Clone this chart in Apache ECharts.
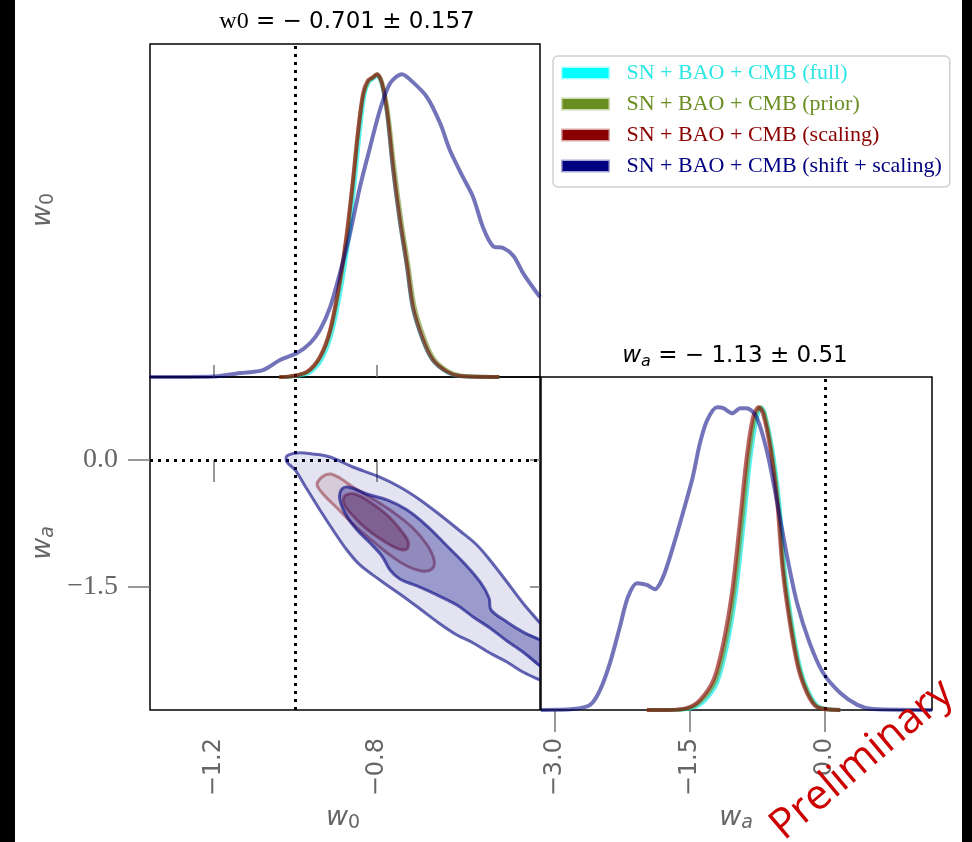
<!DOCTYPE html>
<html><head><meta charset="utf-8">
<script src="https://cdn.jsdelivr.net/npm/echarts@6/dist/echarts.min.js"></script>
<style>html,body{margin:0;padding:0;background:#fff}#c{width:972px;height:842px}</style>
</head><body><div id="c"></div>
<script>
// ---------- data ----------
const seriesNames = ['SN + BAO + CMB (full)', 'SN + BAO + CMB (prior)', 'SN + BAO + CMB (scaling)', 'SN + BAO + CMB (shift + scaling)'];
const w0Ticks = [-1.2, -0.8];
const waTicksX = [-3.0, -1.5, 0.0];
const waTicksY = [0.0, -1.5];
const w0Fiducial = -1.0;
const waFiducial = 0.0;
const w0Range = [-1.357, -0.4];
const waRangeX = [-3.156, 1.189];
const waRangeY = [-2.953, 0.98];

// 1D w0 posteriors
const w0_full_x  = [-1.03, -1.005, -0.965, -0.935, -0.91, -0.886, -0.869, -0.855, -0.843, -0.831, -0.82, -0.81, -0.80, -0.788, -0.775, -0.761, -0.744, -0.726, -0.712, -0.687, -0.663, -0.628, -0.596, -0.50];
const w0_full_p  = [0, 0.002, 0.015, 0.06, 0.15, 0.31, 0.465, 0.64, 0.80, 0.93, 0.975, 0.985, 0.995, 0.965, 0.868, 0.69, 0.515, 0.36, 0.228, 0.12, 0.055, 0.016, 0.003, 0];
const w0_prior_x = [-1.04, -1.013, -0.972, -0.94, -0.915, -0.891, -0.874, -0.859, -0.847, -0.834, -0.822, -0.81, -0.80, -0.787, -0.773, -0.758, -0.741, -0.723, -0.708, -0.683, -0.659, -0.624, -0.592, -0.50];
const w0_prior_p = [0, 0.002, 0.016, 0.064, 0.15, 0.31, 0.465, 0.64, 0.80, 0.93, 0.975, 0.99, 1.0, 0.972, 0.875, 0.70, 0.525, 0.37, 0.235, 0.125, 0.058, 0.018, 0.004, 0];
const w0_scal_x  = [-1.04, -1.013, -0.972, -0.94, -0.915, -0.891, -0.874, -0.859, -0.847, -0.834, -0.822, -0.81, -0.80, -0.788, -0.775, -0.761, -0.744, -0.726, -0.712, -0.687, -0.663, -0.628, -0.596, -0.50];
const w0_scal_p  = [0, 0.002, 0.017, 0.066, 0.155, 0.32, 0.475, 0.65, 0.805, 0.937, 0.98, 0.99, 1.0, 0.97, 0.871, 0.693, 0.518, 0.363, 0.231, 0.122, 0.056, 0.017, 0.003, 0];
const w0_shift_x = [-1.357, -1.20, -1.136, -1.08, -1.038, -0.996, -0.964, -0.94, -0.915, -0.891, -0.866, -0.842, -0.817, -0.793, -0.768, -0.739, -0.712, -0.677, -0.645, -0.621, -0.589, -0.564, -0.54, -0.515, -0.49, -0.465, -0.44, -0.40];
const w0_shift_p = [0.0, 0.002, 0.013, 0.023, 0.056, 0.079, 0.112, 0.155, 0.231, 0.343, 0.475, 0.627, 0.759, 0.881, 0.970, 1.0, 0.974, 0.924, 0.838, 0.749, 0.660, 0.594, 0.495, 0.432, 0.426, 0.40, 0.34, 0.264];

// 1D wa posteriors
const wa_full_x  = [-1.95, -1.70, -1.48, -1.34, -1.20, -1.09, -0.99, -0.90, -0.83, -0.76, -0.71, -0.67, -0.59, -0.51, -0.45, -0.37, -0.28, -0.18, -0.07, 0.17];
const wa_full_p  = [0, 0, 0.006, 0.03, 0.09, 0.21, 0.385, 0.625, 0.83, 0.96, 1.0, 0.98, 0.87, 0.69, 0.47, 0.29, 0.145, 0.058, 0.011, 0];
const wa_prior_x = [-1.98, -1.72, -1.51, -1.37, -1.22, -1.11, -1.01, -0.92, -0.85, -0.78, -0.72, -0.675, -0.60, -0.52, -0.46, -0.38, -0.29, -0.19, -0.08, 0.17];
const wa_prior_p = [0, 0, 0.007, 0.032, 0.095, 0.215, 0.39, 0.63, 0.832, 0.965, 1.0, 0.98, 0.868, 0.685, 0.465, 0.29, 0.143, 0.057, 0.01, 0];
const wa_scal_x  = [-1.98, -1.75, -1.53, -1.39, -1.24, -1.13, -1.03, -0.94, -0.87, -0.80, -0.74, -0.69, -0.61, -0.53, -0.47, -0.39, -0.30, -0.20, -0.09, 0.17];
const wa_scal_p  = [0, 0, 0.007, 0.033, 0.099, 0.221, 0.396, 0.637, 0.835, 0.967, 1.0, 0.98, 0.868, 0.683, 0.462, 0.287, 0.142, 0.056, 0.010, 0];
const wa_shift_x = [-3.156, -2.80, -2.61, -2.50, -2.39, -2.28, -2.19, -2.09, -1.98, -1.89, -1.80, -1.69, -1.58, -1.47, -1.39, -1.31, -1.20, -1.13, -1.03, -0.94, -0.87, -0.76, -0.64, -0.53, -0.42, -0.31, -0.17, -0.02, 0.17, 0.36, 0.53, 1.189];
const wa_shift_p = [0, 0.003, 0.017, 0.066, 0.155, 0.274, 0.373, 0.419, 0.413, 0.399, 0.439, 0.538, 0.650, 0.769, 0.881, 0.957, 1.0, 0.997, 0.98, 0.997, 0.997, 0.967, 0.848, 0.683, 0.505, 0.353, 0.221, 0.122, 0.056, 0.017, 0.003, 0];

// 2D contours (w0, wa)
const shiftOuter_w0 = [-0.400, -0.442, -0.481, -0.523, -0.564, -0.604, -0.645, -0.694, -0.744, -0.793, -0.842, -0.874, -0.908, -0.940, -0.972, -1.001, -1.021, -1.021, -0.996, -0.957, -0.915, -0.859, -0.800, -0.744, -0.694, -0.645, -0.596, -0.555, -0.523, -0.481, -0.442, -0.400];
const shiftOuter_wa = [-2.598, -2.504, -2.386, -2.280, -2.161, -2.067, -1.937, -1.760, -1.583, -1.417, -1.240, -1.063, -0.827, -0.591, -0.343, -0.118, -0.024, 0.047, 0.083, 0.071, 0.035, -0.083, -0.189, -0.319, -0.472, -0.650, -0.839, -1.004, -1.181, -1.441, -1.689, -1.925];
const shiftInner_w0 = [-0.400, -0.442, -0.481, -0.523, -0.564, -0.604, -0.653, -0.702, -0.744, -0.768, -0.788, -0.817, -0.849, -0.876, -0.891, -0.888, -0.871, -0.825, -0.775, -0.726, -0.677, -0.628, -0.589, -0.547, -0.525, -0.520, -0.481, -0.442, -0.400];
const shiftInner_wa = [-2.433, -2.268, -2.138, -1.984, -1.854, -1.713, -1.594, -1.488, -1.406, -1.299, -1.134, -0.980, -0.827, -0.650, -0.472, -0.354, -0.319, -0.402, -0.472, -0.591, -0.780, -1.016, -1.205, -1.441, -1.630, -1.772, -1.913, -2.031, -2.126];
const scalOuter_w0 = [-0.947, -0.935, -0.915, -0.891, -0.859, -0.810, -0.761, -0.712, -0.677, -0.660, -0.665, -0.690, -0.731, -0.775, -0.817, -0.859, -0.898, -0.930];
const scalOuter_wa = [-0.295, -0.201, -0.165, -0.213, -0.319, -0.461, -0.614, -0.803, -1.004, -1.181, -1.287, -1.311, -1.240, -1.098, -0.933, -0.756, -0.567, -0.413];
const scalInner_w0 = [-0.883, -0.876, -0.854, -0.817, -0.775, -0.744, -0.724, -0.726, -0.748, -0.788, -0.829, -0.861, -0.879];
const scalInner_wa = [-0.472, -0.413, -0.402, -0.496, -0.650, -0.815, -0.957, -1.051, -1.051, -0.945, -0.803, -0.650, -0.543];

// ---------- styles ----------
const lineColors = ['rgba(0,230,230,0.65)', 'rgba(107,142,35,0.6)', 'rgba(139,0,0,0.6)', 'rgba(0,0,128,0.55)'];
const legendSolid = ['#00ffff', '#6b8e23', '#8b0000', '#000080'];
const legendEdge = ['rgba(0,255,255,0.35)', 'rgba(107,142,35,0.35)', 'rgba(139,0,0,0.35)', 'rgba(0,0,128,0.35)'];
const legendText = ['#2ee6e6', '#6b8e23', '#8b0000', '#000080'];
const fmt = v => (v < 0 ? '\u2212' : '') + Math.abs(v).toFixed(1);
const zip = (xs, ys) => xs.map((x, i) => [x, ys[i]]);
const GRAY = '#666';
const tickStyle = {color: '#777', width: 1.5};

function lineSeries(name, xs, ys, idx, axisIdx) {
  return {
    name, type: 'line', xAxisIndex: axisIdx, yAxisIndex: axisIdx,
    data: zip(xs, ys), showSymbol: false, symbol: 'none',
    smooth: 0.3,
    lineStyle: {color: lineColors[idx], width: 4}, z: 3 + idx
  };
}

function contourSeries(name, outerX, outerY, innerX, innerY, rgb, aOuter, aInner, aStroke, openOuter, z) {
  return {
    name, type: 'custom', xAxisIndex: 1, yAxisIndex: 1, clip: true, z,
    data: [[-0.8, -1.0]],
    renderItem: function (params, api) {
      const po = outerX.map((x, i) => api.coord([x, outerY[i]]));
      const pi = innerX.map((x, i) => api.coord([x, innerY[i]]));
      const sm = 0.35;
      return {
        type: 'group',
        children: [
          {type: 'polygon', shape: {points: po, smooth: sm}, style: {fill: `rgba(${rgb},${aOuter})`, stroke: null}},
          {type: 'polygon', shape: {points: pi, smooth: sm}, style: {fill: `rgba(${rgb},${aInner})`, stroke: null}},
          {type: openOuter ? 'polyline' : 'polygon', shape: {points: po, smooth: sm}, style: {fill: null, stroke: `rgba(${rgb},${aStroke})`, lineWidth: 3}},
          {type: openOuter ? 'polyline' : 'polygon', shape: {points: pi, smooth: sm}, style: {fill: null, stroke: `rgba(${rgb},${aStroke})`, lineWidth: 3}}
        ]
      };
    }
  };
}

const dotted = {type: [3, 5], color: '#000', width: 3, cap: 'butt'};
function markSeries(axisIdx, marks) {
  return {
    type: 'line', xAxisIndex: axisIdx, yAxisIndex: axisIdx, data: [], z: 20,
    markLine: {silent: true, symbol: 'none', label: {show: false}, lineStyle: dotted, animation: false, data: marks}
  };
}

const hiddenAxis = {axisLine: {show: false}, splitLine: {show: false}, axisTick: {show: false}, axisLabel: {show: false}};
const gridBase = {show: true, borderColor: '#000', borderWidth: 1.5, backgroundColor: 'transparent', containLabel: false};

const option = {
  backgroundColor: '#fff',
  animation: false,
  grid: [
    Object.assign({left: 150, top: 44, width: 390, height: 333}, gridBase),
    Object.assign({left: 150, top: 377, width: 390, height: 333}, gridBase),
    Object.assign({left: 541, top: 377, width: 391, height: 333}, gridBase)
  ],
  xAxis: [
    {gridIndex: 0, type: 'value', min: w0Range[0], max: w0Range[1], axisLine: {show: false}, splitLine: {show: false},
      axisTick: {inside: true, length: 12, customValues: w0Ticks, lineStyle: tickStyle}, axisLabel: {show: false}},
    {gridIndex: 1, type: 'value', min: w0Range[0], max: w0Range[1], axisLine: {show: false}, splitLine: {show: false},
      axisTick: {length: 22, customValues: w0Ticks, lineStyle: tickStyle},
      axisLabel: {customValues: w0Ticks, rotate: 90, margin: 28, formatter: fmt, color: GRAY, fontFamily: 'DejaVu Sans', fontSize: 24}},
    {gridIndex: 2, type: 'value', min: waRangeX[0], max: waRangeX[1], axisLine: {show: false}, splitLine: {show: false},
      axisTick: {length: 22, customValues: waTicksX, lineStyle: tickStyle},
      axisLabel: {customValues: waTicksX, rotate: 90, margin: 28, formatter: fmt, color: GRAY, fontFamily: 'DejaVu Sans', fontSize: 24}},
    {gridIndex: 1, type: 'value', position: 'top', min: w0Range[0], max: w0Range[1], axisLine: {show: false}, splitLine: {show: false},
      axisTick: {inside: true, length: 10, customValues: w0Ticks, lineStyle: tickStyle}, axisLabel: {show: false}}
  ],
  yAxis: [
    Object.assign({gridIndex: 0, type: 'value', min: 0, max: 1.1}, hiddenAxis),
    {gridIndex: 1, type: 'value', min: waRangeY[0], max: waRangeY[1], axisLine: {show: false}, splitLine: {show: false},
      axisTick: {length: 22, customValues: waTicksY, lineStyle: tickStyle},
      axisLabel: {customValues: waTicksY, margin: 32, formatter: fmt, color: GRAY, fontFamily: 'Liberation Serif', fontSize: 28}},
    Object.assign({gridIndex: 2, type: 'value', min: 0, max: 1.1}, hiddenAxis),
    {gridIndex: 1, type: 'value', position: 'right', min: waRangeY[0], max: waRangeY[1], axisLine: {show: false}, splitLine: {show: false},
      axisTick: {inside: true, length: 10, customValues: waTicksY, lineStyle: tickStyle}, axisLabel: {show: false}}
  ],
  legend: {
    left: 553, top: 56, orient: 'vertical', selectedMode: false,
    backgroundColor: '#fff', borderColor: '#d0d0d0', borderWidth: 1.5, borderRadius: 5,
    padding: [6, 8, 10, 8], itemGap: 9, itemWidth: 46, itemHeight: 10,
    textStyle: {fontFamily: 'Liberation Serif', fontSize: 22, lineHeight: 22, padding: [0, 0, 0, 13]},
    data: seriesNames.map((n, i) => ({
      name: n, icon: 'rect',
      itemStyle: {color: legendSolid[i], borderColor: legendEdge[i], borderWidth: 3, opacity: 1},
      textStyle: {color: legendText[i]}
    }))
  },
  series: [
    lineSeries(seriesNames[0], w0_full_x, w0_full_p, 0, 0),
    lineSeries(seriesNames[1], w0_prior_x, w0_prior_p, 1, 0),
    lineSeries(seriesNames[2], w0_scal_x, w0_scal_p, 2, 0),
    lineSeries(seriesNames[3], w0_shift_x, w0_shift_p, 3, 0),
    lineSeries(seriesNames[0], wa_full_x, wa_full_p, 0, 2),
    lineSeries(seriesNames[1], wa_prior_x, wa_prior_p, 1, 2),
    lineSeries(seriesNames[2], wa_scal_x, wa_scal_p, 2, 2),
    lineSeries(seriesNames[3], wa_shift_x, wa_shift_p, 3, 2),
    contourSeries(seriesNames[2], scalOuter_w0, scalOuter_wa, scalInner_w0, scalInner_wa, '139,0,0', 0.1, 0.3, 0.42, false, 5),
    contourSeries(seriesNames[3], shiftOuter_w0, shiftOuter_wa, shiftInner_w0, shiftInner_wa, '0,0,128', 0.11, 0.32, 0.6, true, 6),
    markSeries(0, [{xAxis: w0Fiducial}]),
    markSeries(1, [{xAxis: w0Fiducial}, {yAxis: waFiducial}]),
    markSeries(2, [{xAxis: waFiducial}])
  ],
  graphic: [
    {type: 'rect', left: 0, top: 0, shape: {width: 15, height: 842}, style: {fill: '#000'}, z: 100},
    {type: 'rect', left: 962, top: 0, shape: {width: 10, height: 842}, style: {fill: '#000'}, z: 100},
    {type: 'text', x: 347, y: 22, z: 50, style: {
      text: '{a|w0}{b| = \u2212 0.701 \u00b1 0.157}', align: 'center', verticalAlign: 'middle',
      rich: {a: {fontFamily: 'Liberation Serif', fontSize: 24, fill: '#000'}, b: {fontFamily: 'DejaVu Sans', fontSize: 23, fill: '#000'}}
    }},
    {type: 'text', x: 735, y: 356, z: 50, style: {
      text: '{w|w}{s|a}{b| = \u2212 1.13 \u00b1 0.51}', align: 'center', verticalAlign: 'middle',
      rich: {w: {fontFamily: 'DejaVu Sans', fontStyle: 'italic', fontSize: 23, lineHeight: 28, fill: '#000'},
             s: {fontFamily: 'DejaVu Sans', fontStyle: 'italic', fontSize: 16, lineHeight: 18, verticalAlign: 'bottom', fill: '#000'},
             b: {fontFamily: 'DejaVu Sans', fontSize: 23, lineHeight: 28, fill: '#000'}}
    }},
    {type: 'text', x: 343, y: 818, z: 50, style: {
      text: '{w|w}{s|0}', align: 'center', verticalAlign: 'middle',
      rich: {w: {fontFamily: 'DejaVu Sans', fontStyle: 'italic', fontSize: 27, lineHeight: 30, fill: GRAY},
             s: {fontFamily: 'DejaVu Sans', fontSize: 19, lineHeight: 18, verticalAlign: 'bottom', fill: GRAY}}
    }},
    {type: 'text', x: 736, y: 818, z: 50, style: {
      text: '{w|w}{s|a}', align: 'center', verticalAlign: 'middle',
      rich: {w: {fontFamily: 'DejaVu Sans', fontStyle: 'italic', fontSize: 27, lineHeight: 30, fill: GRAY},
             s: {fontFamily: 'DejaVu Sans', fontStyle: 'italic', fontSize: 19, lineHeight: 18, verticalAlign: 'bottom', fill: GRAY}}
    }},
    {type: 'text', x: 43, y: 210, rotation: Math.PI / 2, z: 50, style: {
      text: '{w|w}{s|0}', align: 'center', verticalAlign: 'middle',
      rich: {w: {fontFamily: 'DejaVu Sans', fontStyle: 'italic', fontSize: 27, lineHeight: 30, fill: GRAY},
             s: {fontFamily: 'DejaVu Sans', fontSize: 19, lineHeight: 18, verticalAlign: 'bottom', fill: GRAY}}
    }},
    {type: 'text', x: 43, y: 543, rotation: Math.PI / 2, z: 50, style: {
      text: '{w|w}{s|a}', align: 'center', verticalAlign: 'middle',
      rich: {w: {fontFamily: 'DejaVu Sans', fontStyle: 'italic', fontSize: 27, lineHeight: 30, fill: GRAY},
             s: {fontFamily: 'DejaVu Sans', fontStyle: 'italic', fontSize: 19, lineHeight: 18, verticalAlign: 'bottom', fill: GRAY}}
    }},
    {type: 'text', x: 862, y: 760, rotation: 0.70, z: 60, style: {
      text: 'Preliminary', align: 'center', verticalAlign: 'middle',
      fontFamily: 'Open Sans', fontSize: 42, fill: '#cc0000'
    }}
  ]
};

const chart = echarts.init(document.getElementById('c'), null, {renderer: 'canvas'});
chart.setOption(option);
</script>
</body></html>
